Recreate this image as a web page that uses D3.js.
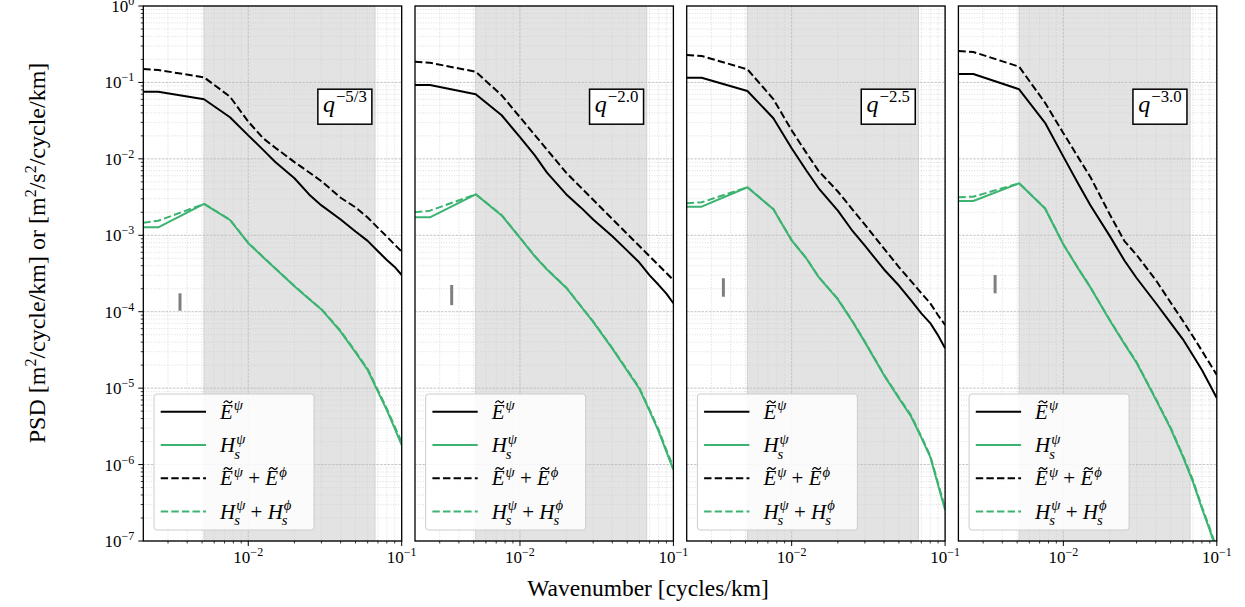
<!DOCTYPE html>
<html>
<head>
<meta charset="utf-8">
<script src="https://cdn.jsdelivr.net/npm/d3@7"></script>
<style>
  body { margin: 0; background: #fff; }
  text { font-family: "Liberation Serif", "DejaVu Serif", serif; fill: #000; }
</style>
</head>
<body>
<script>
// wavenumbers (cycles/km) shared by every spectrum
const kGrid = [0.00207, 0.00259, 0.00515, 0.0076, 0.01, 0.0125, 0.015, 0.02, 0.025, 0.03, 0.04, 0.05, 0.06, 0.07, 0.08, 0.09, 0.1];

// q^-5/3
const ePsi1 = [0.0756, 0.0756, 0.0602, 0.0350, 0.0203, 0.0131, 0.0091, 0.00558, 0.0034, 0.00246, 0.00161, 0.00112, 8.45e-4, 6.19e-4, 4.75e-4, 3.85e-4, 3.02e-4];
const eSum1 = [0.150, 0.1455, 0.1167, 0.0651, 0.0307, 0.0186, 0.0140, 0.00907, 0.00663, 0.0051, 0.0031, 0.00232, 0.00171, 0.00125, 9.6e-4, 7.56e-4, 6.1e-4];
const hPsi1 = [1.27e-3, 1.27e-3, 2.57e-3, 1.585e-3, 7.88e-4, 5.17e-4, 3.68e-4, 2.16e-4, 1.46e-4, 1.07e-4, 5.5e-5, 2.93e-5, 1.73e-5, 9.0e-6, 5.16e-6, 2.97e-6, 1.8e-6];
const hSum1 = [1.46e-3, 1.55e-3, 2.57e-3, 1.6e-3, 7.95e-4, 5.2e-4, 3.7e-4, 2.17e-4, 1.47e-4, 1.08e-4, 5.6e-5, 3.0e-5, 1.78e-5, 9.4e-6, 5.4e-6, 3.15e-6, 1.95e-6];

// q^-2.0
const ePsi2 = [0.0925, 0.0925, 0.070, 0.0372, 0.0192, 0.0111, 0.0066, 3.45e-3, 2.3e-3, 1.61e-3, 9.7e-4, 6.3e-4, 4.4e-4, 2.99e-4, 2.25e-4, 1.72e-4, 1.29e-4];
const eSum2 = [0.1867, 0.181, 0.138, 0.0679, 0.0351, 0.0205, 0.0132, 0.0066, 4.2e-3, 2.91e-3, 1.63e-3, 1.04e-3, 7.24e-4, 5.3e-4, 4.07e-4, 3.21e-4, 2.6e-4];
const hPsi2 = [1.72e-3, 1.72e-3, 3.44e-3, 1.82e-3, 9.27e-4, 5.3e-4, 3.56e-4, 2.06e-4, 1.17e-4, 7.36e-5, 3.29e-5, 1.69e-5, 9.8e-6, 5.0e-6, 2.74e-6, 1.48e-6, 8.5e-7];
const hSum2 = [2.0e-3, 2.1e-3, 3.44e-3, 1.84e-3, 9.35e-4, 5.35e-4, 3.6e-4, 2.08e-4, 1.18e-4, 7.45e-5, 3.35e-5, 1.73e-5, 1.01e-5, 5.2e-6, 2.88e-6, 1.56e-6, 9.2e-7];

// q^-2.5
const ePsi3 = [0.1153, 0.1153, 0.0772, 0.034, 0.01374, 6.98e-3, 4.12e-3, 2.1e-3, 1.13e-3, 7.3e-4, 3.57e-4, 2.2e-4, 1.41e-4, 9.5e-5, 7.1e-5, 4.9e-5, 3.32e-5];
const eSum3 = [0.2286, 0.222, 0.1485, 0.0605, 0.0236, 0.0119, 6.92e-3, 3.74e-3, 2.15e-3, 1.38e-3, 6.68e-4, 3.84e-4, 2.51e-4, 1.75e-4, 1.29e-4, 9.0e-5, 6.7e-5];
const hPsi3 = [2.37e-3, 2.37e-3, 4.25e-3, 2.19e-3, 8.57e-4, 4.94e-4, 2.83e-4, 1.45e-4, 7.34e-5, 4.0e-5, 1.47e-5, 7.36e-6, 4.26e-6, 2.25e-6, 1.26e-6, 5.4e-7, 2.55e-7];
const hSum3 = [2.62e-3, 2.7e-3, 4.25e-3, 2.2e-3, 8.65e-4, 4.98e-4, 2.86e-4, 1.47e-4, 7.45e-5, 4.06e-5, 1.5e-5, 7.55e-6, 4.4e-6, 2.33e-6, 1.31e-6, 5.7e-7, 2.7e-7];

// q^-3.0
const ePsi4 = [0.1289, 0.1289, 0.0813, 0.0296, 0.0107, 4.72e-3, 2.47e-3, 9.9e-4, 4.68e-4, 2.76e-4, 1.3e-4, 7.14e-5, 4.39e-5, 2.68e-5, 1.73e-5, 1.11e-5, 7.4e-6];
const eSum4 = [0.2577, 0.25, 0.1607, 0.0541, 0.0217, 0.01045, 5.79e-3, 1.9e-3, 8.4e-4, 5.54e-4, 2.6e-4, 1.32e-4, 7.65e-5, 4.73e-5, 3.08e-5, 2.1e-5, 1.49e-5];
const hPsi4 = [2.81e-3, 2.81e-3, 4.79e-3, 2.24e-3, 7.58e-4, 3.66e-4, 2.08e-4, 7.8e-5, 3.79e-5, 2.15e-5, 7.13e-6, 2.95e-6, 1.28e-6, 5.9e-7, 2.66e-7, 1.39e-7, 7.4e-8];
const hSum4 = [3.14e-3, 3.2e-3, 4.79e-3, 2.26e-3, 7.65e-4, 3.7e-4, 2.1e-4, 7.9e-5, 3.85e-5, 2.19e-5, 7.3e-6, 3.05e-6, 1.33e-6, 6.2e-7, 2.8e-7, 1.47e-7, 7.9e-8];

const qLabels = ["\u22125/3", "\u22122.0", "\u22122.5", "\u22123.0"];
const errK = 0.00359;
const errLo = [1.03e-4, 1.22e-4, 1.57e-4, 1.74e-4];
const errHi = [1.74e-4, 2.24e-4, 2.74e-4, 3.02e-4];
const shadeBand = [0.00515, 0.067];
const xDomain = [0.00207, 0.1];
const yDomain = [1e-7, 1];

const panels = [
  {q: qLabels[0], ePsi: ePsi1, eSum: eSum1, hPsi: hPsi1, hSum: hSum1},
  {q: qLabels[1], ePsi: ePsi2, eSum: eSum2, hPsi: hPsi2, hSum: hSum2},
  {q: qLabels[2], ePsi: ePsi3, eSum: eSum3, hPsi: hPsi3, hSum: hSum3},
  {q: qLabels[3], ePsi: ePsi4, eSum: eSum4, hPsi: hPsi4, hSum: hSum4}
];

const width = 1245, height = 607;
const left0 = 143.3, step = 271.7, pw = 258.4, topM = 6, ph = 535;
const green = "#3cb371";

const svg = d3.select("body").append("svg")
    .attr("width", width)
    .attr("height", height);

svg.append("defs").append("clipPath").attr("id", "clip")
  .append("rect").attr("width", pw).attr("height", ph);

const x = d3.scaleLog().domain(xDomain).range([0, pw]);
const y = d3.scaleLog().domain(yDomain).range([ph, 0]);

// tick values
const xMajor = [0.01, 0.1];
const xMinor = [];
[3, 4, 5, 6, 7, 8, 9].forEach(m => xMinor.push(m * 1e-3));
[2, 3, 4, 5, 6, 7, 8, 9].forEach(m => xMinor.push(m * 1e-2));
const yMajor = d3.range(-7, 1).map(e => Math.pow(10, e));
const yMinor = [];
d3.range(-7, 0).forEach(e => { for (let m = 2; m < 10; m++) yMinor.push(m * Math.pow(10, e)); });

// draw a small math expression out of separate pieces, returns its width
function drawMath(g, x0, yBase, size, parts) {
  let cx = x0;
  parts.forEach(p => {
    if (p.op) {
      const t = g.append("text").attr("x", cx + size * 0.25).attr("y", yBase).style("font-size", size + "px").text(p.op);
      cx += t.node().getComputedTextLength() + size * 0.5;
      return;
    }
    const t = g.append("text").attr("x", cx).attr("y", yBase)
        .style("font-size", size + "px").style("font-style", "italic").text(p.t);
    const w = t.node().getComputedTextLength();
    if (p.tilde) {
      // tilde accent drawn as a small wave
      const tx = cx + w * 0.62, ty = yBase - size * 0.8, hw = size * 0.2, a = size * 0.05;
      g.append("path")
        .attr("d", "M" + (tx - hw) + "," + (ty + a) + " Q" + (tx - hw / 2) + "," + (ty - 2.2 * a) + " " + tx + "," + ty +
                   " Q" + (tx + hw / 2) + "," + (ty + 2.2 * a) + " " + (tx + hw) + "," + (ty - a))
        .attr("fill", "none").attr("stroke", "#000").attr("stroke-width", size * 0.06);
    }
    let sw = 0;
    if (p.sup) {
      const s = g.append("text").attr("x", cx + w + 1).attr("y", yBase - size * 0.4)
          .style("font-size", (size * 0.7) + "px").style("font-style", p.supRoman ? "normal" : "italic").text(p.sup);
      sw = Math.max(sw, s.node().getComputedTextLength());
    }
    if (p.sub) {
      const s = g.append("text").attr("x", cx + w - 1).attr("y", yBase + size * 0.32)
          .style("font-size", (size * 0.7) + "px").style("font-style", "italic").text(p.sub);
      sw = Math.max(sw, s.node().getComputedTextLength() - 2);
    }
    cx += w + (sw ? sw + 1 : 0);
  });
  return cx - x0;
}

const legendItems = [
  {color: "#000", dash: null, parts: [{t: "E", tilde: true, sup: "\u03C8"}]},
  {color: green, dash: null, parts: [{t: "H", sup: "\u03C8", sub: "s"}]},
  {color: "#000", dash: "7.4,3.2", parts: [{t: "E", tilde: true, sup: "\u03C8"}, {op: "+"}, {t: "E", tilde: true, sup: "\u03D5"}]},
  {color: green, dash: "7.4,3.2", parts: [{t: "H", sup: "\u03C8", sub: "s"}, {op: "+"}, {t: "H", sup: "\u03D5", sub: "s"}]}
];

panels.forEach(function(p, i) {
  const g = svg.append("g").attr("transform", "translate(" + (left0 + i * step) + "," + topM + ")");

  // shaded band
  g.append("rect")
    .attr("x", x(shadeBand[0])).attr("y", 0)
    .attr("width", x(shadeBand[1]) - x(shadeBand[0])).attr("height", ph)
    .attr("fill", "#e3e3e3").attr("stroke", "#d2d2d2").attr("stroke-width", 1);

  // grid
  const grid = g.append("g");
  grid.selectAll(".gxm").data(xMinor).enter().append("line")
    .attr("x1", d => x(d)).attr("x2", d => x(d)).attr("y1", 0).attr("y2", ph)
    .attr("stroke", "#cfcfcf").attr("stroke-width", 0.7).attr("stroke-dasharray", "1,1.6");
  grid.selectAll(".gym").data(yMinor).enter().append("line")
    .attr("y1", d => y(d)).attr("y2", d => y(d)).attr("x1", 0).attr("x2", pw)
    .attr("stroke", "#cfcfcf").attr("stroke-width", 0.7).attr("stroke-dasharray", "1,1.6");
  grid.selectAll(".gxM").data(xMajor).enter().append("line")
    .attr("x1", d => x(d)).attr("x2", d => x(d)).attr("y1", 0).attr("y2", ph)
    .attr("stroke", "#bdbdbd").attr("stroke-width", 0.9).attr("stroke-dasharray", "2.5,1.2");
  grid.selectAll(".gyM").data(yMajor).enter().append("line")
    .attr("y1", d => y(d)).attr("y2", d => y(d)).attr("x1", 0).attr("x2", pw)
    .attr("stroke", "#bdbdbd").attr("stroke-width", 0.9).attr("stroke-dasharray", "2.5,1.2");

  // spectra
  const line = d3.line().x(d => x(d[0])).y(d => y(d[1]));
  const series = [
    {v: p.ePsi, c: "#000", dash: null},
    {v: p.hPsi, c: green, dash: null},
    {v: p.eSum, c: "#000", dash: "7.4,3.2"},
    {v: p.hSum, c: green, dash: "7.4,3.2"}
  ];
  const plot = g.append("g").attr("clip-path", "url(#clip)");
  series.forEach(s => {
    plot.append("path")
      .datum(kGrid.map((k, j) => [k, s.v[j]]))
      .attr("d", line)
      .attr("fill", "none")
      .attr("stroke", s.c)
      .attr("stroke-width", 2)
      .attr("stroke-linejoin", "round")
      .attr("stroke-dasharray", s.dash);
  });

  // error bar
  g.append("line")
    .attr("x1", x(errK)).attr("x2", x(errK))
    .attr("y1", y(errLo[i])).attr("y2", y(errHi[i]))
    .attr("stroke", "#7f7f7f").attr("stroke-width", 3);

  // slope box
  const cxq = pw * 0.78, cyq = 100.7;
  g.append("rect")
    .attr("x", cxq - 27).attr("y", cyq - 17.5).attr("width", 54).attr("height", 35)
    .attr("fill", "#fff").attr("stroke", "#000").attr("stroke-width", 1.5);
  const qb = g.append("g");
  const qw = drawMath(qb, 0, 0, 24, [{t: "q", sup: p.q, supRoman: true}]);
  qb.attr("transform", "translate(" + (cxq - qw / 2) + "," + (cyq + 5) + ")");

  // legend
  const lg = g.append("g").attr("transform", "translate(10.7,388)");
  lg.append("rect").attr("width", 160).attr("height", 136).attr("rx", 3)
    .attr("fill", "#fff").attr("fill-opacity", 0.85).attr("stroke", "#cccccc").attr("stroke-width", 1);
  legendItems.forEach((it, j) => {
    const ry = 17.7 + j * 33.3;
    lg.append("line").attr("x1", 6.7).attr("x2", 52).attr("y1", ry).attr("y2", ry)
      .attr("stroke", it.color).attr("stroke-width", 2).attr("stroke-dasharray", it.dash);
    drawMath(lg, 66, ry + 7, 21, it.parts);
  });

  // frame
  g.append("rect").attr("width", pw).attr("height", ph)
    .attr("fill", "none").attr("stroke", "#000").attr("stroke-width", 1.3);

  // x ticks
  g.selectAll(".xt").data(xMajor).enter().append("line")
    .attr("x1", d => x(d)).attr("x2", d => x(d)).attr("y1", ph).attr("y2", ph + 5)
    .attr("stroke", "#000").attr("stroke-width", 1);
  g.selectAll(".xtm").data(xMinor).enter().append("line")
    .attr("x1", d => x(d)).attr("x2", d => x(d)).attr("y1", ph).attr("y2", ph + 2.5)
    .attr("stroke", "#000").attr("stroke-width", 0.8);
  xMajor.forEach(d => {
    const t = g.append("text").attr("x", x(d)).attr("y", ph + 22).attr("text-anchor", "middle").style("font-size", "17px");
    t.append("tspan").text("10");
    t.append("tspan").attr("dy", -7).style("font-size", "12px").text("\u2212" + Math.round(-Math.log10(d)));
  });

  // y ticks only on the first panel
  if (i === 0) {
    g.selectAll(".yt").data(yMajor).enter().append("line")
      .attr("y1", d => y(d)).attr("y2", d => y(d)).attr("x1", -5).attr("x2", 0)
      .attr("stroke", "#000").attr("stroke-width", 1);
    g.selectAll(".ytm").data(yMinor).enter().append("line")
      .attr("y1", d => y(d)).attr("y2", d => y(d)).attr("x1", -2.5).attr("x2", 0)
      .attr("stroke", "#000").attr("stroke-width", 0.8);
    yMajor.forEach(d => {
      const e = Math.round(Math.log10(d));
      const t = g.append("text").attr("x", -9).attr("y", y(d) + 6).attr("text-anchor", "end").style("font-size", "17px");
      t.append("tspan").text("10");
      t.append("tspan").attr("dy", -7).style("font-size", "12px").text(e === 0 ? "0" : "\u2212" + (-e));
    });
  }
});

// axis labels
svg.append("text").attr("x", 648).attr("y", 596).attr("text-anchor", "middle").style("font-size", "23.5px")
  .text("Wavenumber [cycles/km]");

const yl = svg.append("text").attr("transform", "translate(45,253) rotate(-90)")
  .attr("text-anchor", "middle").style("font-size", "24px");
yl.append("tspan").text("PSD [m");
yl.append("tspan").attr("dy", -9).style("font-size", "16px").text("2");
yl.append("tspan").attr("dy", 9).text("/cycle/km] or [m");
yl.append("tspan").attr("dy", -9).style("font-size", "16px").text("2");
yl.append("tspan").attr("dy", 9).text("/s");
yl.append("tspan").attr("dy", -9).style("font-size", "16px").text("2");
yl.append("tspan").attr("dy", 9).text("/cycle/km]");
</script>
</body>
</html>
